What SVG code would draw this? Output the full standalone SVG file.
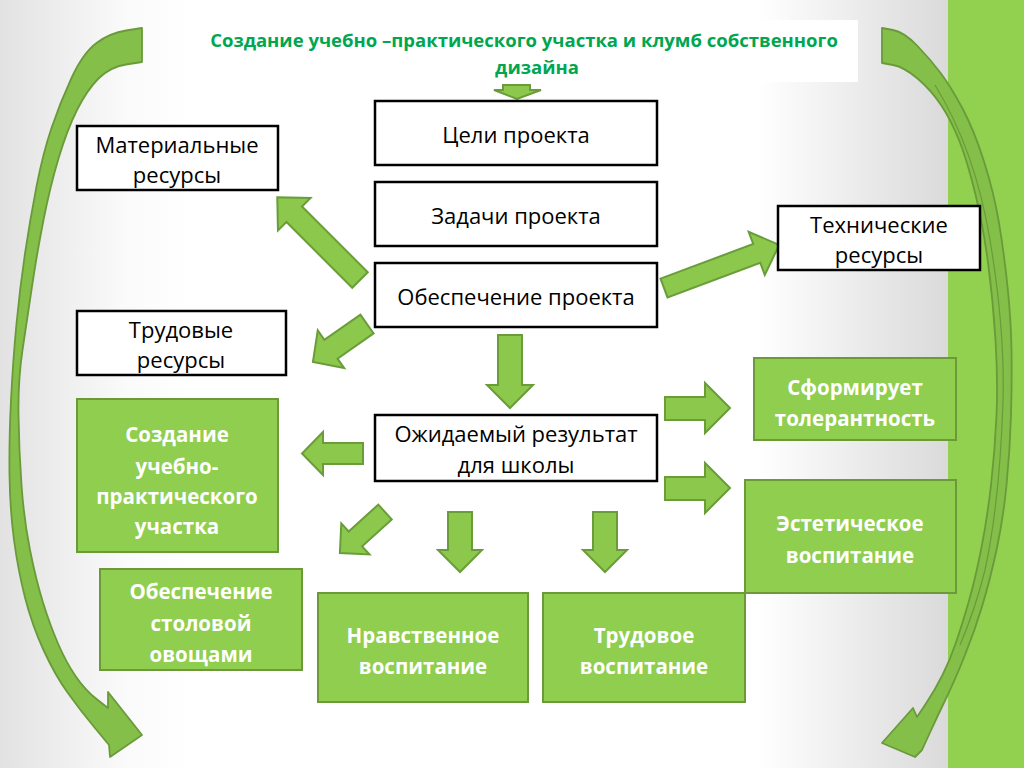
<svg xmlns="http://www.w3.org/2000/svg" width="1024" height="768" viewBox="0 0 1024 768">
<defs>
<linearGradient id="bg" x1="0" y1="0" x2="948" y2="0" gradientUnits="userSpaceOnUse">
<stop offset="0" stop-color="#e2e2e2"/>
<stop offset="0.13" stop-color="#fafafa"/>
<stop offset="0.2" stop-color="#ffffff"/>
<stop offset="0.8" stop-color="#ffffff"/>
<stop offset="1" stop-color="#dadada"/>
</linearGradient>
<style>
.wbox{fill:#ffffff;stroke:#000000;stroke-width:2.5}
.gbox{fill:#8fce4e;stroke:#6c9a3a;stroke-width:2}
.arr{fill:#8cc84c;stroke:#6a9d3a;stroke-width:2;stroke-linejoin:miter}
.curve{fill:#84bf4a;stroke:#6a9a3a;stroke-width:1.8;stroke-linejoin:round}
.fold{fill:none;stroke:#6a9a3a;stroke-width:1.2}
.bt{font-family:"Open Sans","Liberation Sans",sans-serif;font-size:22px;fill:#000000;text-anchor:middle}
.gt{font-family:"Open Sans","Liberation Sans",sans-serif;font-size:20.5px;font-weight:bold;fill:#ffffff;text-anchor:middle}
.tt{font-family:"Open Sans","Liberation Sans",sans-serif;font-size:18.5px;font-weight:bold;fill:#00a650;text-anchor:middle}
</style>
</defs>
<rect x="0" y="0" width="1024" height="768" fill="url(#bg)"/>
<rect x="948" y="0" width="76" height="768" fill="#92d050"/>
<rect x="190" y="20" width="668" height="62" fill="#ffffff"/>

<g id="connectors">
<path class="curve" d="M142,28 L126,30.5 Q110,33 96.5,43 Q83,53 71.5,78 Q60,103 51.5,128 Q43,153 36.5,186.5 Q30,220 25,253.5 Q20,287 16.5,323.5 Q13,360 11,400 Q9,440 9.5,475 Q10,510 14,540 Q18,570 25,597.5 Q32,625 43.5,650 Q55,675 67.5,692.5 Q80,710 94.5,727.5 L109,745 L110,757 L142,735 L108,692 L108,708 L96.5,699 Q85,690 75.5,676 Q66,662 58,643.5 Q50,625 43,602.5 Q36,580 30,550 Q24,520 21.5,485 Q19,450 18.5,415 Q18,380 22.5,350 Q27,320 32,286.5 Q37,253 43.5,220 Q50,187 58.5,158.5 Q67,130 77,110 Q87,90 98.5,78.5 Q110,67 126,64.5 L142,62 Z"/>
<path class="curve" d="M882,28 L893,30 Q904,32 917.5,46 Q931,60 941,73.5 Q951,87 962.5,108.5 Q974,130 984,161.5 Q994,193 999,223 Q1004,253 1007.5,286.5 Q1011,320 1011.5,350 Q1012,380 1011,415 Q1010,450 1006.5,485 Q1003,520 996.5,550 Q990,580 982.5,605 Q975,630 965,655 Q955,680 946.5,697.5 Q938,715 930,732.5 L922,750 L915,757 L882,743 L913,708 L917,717 L926,703.5 Q935,690 942.5,675 Q950,660 956,642.5 Q962,625 968.5,602.5 Q975,580 981,550 Q987,520 991,485 Q995,450 996.5,415 Q998,380 995.5,340 Q993,300 988,262.5 Q983,225 975,192.5 Q967,160 959,140 Q951,120 941,105 Q931,90 917.5,78.5 Q904,67 893,65 L882,63 Z"/>
<path class="fold" d="M935,85 Q975,150 990,240 Q1005,330 1003,400 Q1000,500 985,570 Q975,610 960,645"/>
<polygon class="arr" points="503,85 530,85 530,90 541,90 517,99 494,90 503,90"/>
<polygon class="arr" transform="translate(360,280) rotate(-135)" points="0,-11 93,-11 93,-23 117,0 93,23 93,11 0,11"/>
<polygon class="arr" transform="translate(367,324) rotate(145)" points="0,-11.5 44,-11.5 44,-23 66,0 44,23 44,11.5 0,11.5"/>
<polygon class="arr" transform="translate(664,288) rotate(-20.5)" points="0,-10 99,-10 99,-23 123,0 99,23 99,10 0,10"/>
<polygon class="arr" points="498,335 522,335 522,385 533,385 510,408 487,385 498,385"/>
<polygon class="arr" points="363,443 363,464 323,464 323,475 302,453.5 323,432 323,443"/>
<polygon class="arr" points="665,397 705,397 705,383 730,408 705,433 705,420 665,420"/>
<polygon class="arr" points="665,477 705,477 705,463 730,488 705,513 705,500 665,500"/>
<polygon class="arr" transform="translate(385,512) rotate(137.7)" points="0,-10 40,-10 40,-21 61,0 40,21 40,10 0,10"/>
<polygon class="arr" points="448,512 472,512 472,550 482,550 460,572 438,550 448,550"/>
<polygon class="arr" points="593,512 617,512 617,550 627,550 605,572 583,550 593,550"/>
</g>

<g id="title">
<text class="tt" x="524" y="47">Создание учебно –практического участка и клумб собственного</text>
<text class="tt" x="537" y="74">дизайна</text>
</g>

<g id="goals">
<rect class="wbox" x="375" y="101" width="282" height="64"/>
<text class="bt" x="516" y="143">Цели проекта</text>
</g>
<g id="tasks">
<rect class="wbox" x="375" y="182" width="282" height="64"/>
<text class="bt" x="516" y="224">Задачи проекта</text>
</g>
<g id="support">
<rect class="wbox" x="375" y="263" width="282" height="64"/>
<text class="bt" x="516" y="305">Обеспечение проекта</text>
</g>
<g id="material">
<rect class="wbox" x="77" y="126" width="201" height="64"/>
<text class="bt" x="177" y="153">Материальные</text>
<text class="bt" x="177" y="183">ресурсы</text>
</g>
<g id="technical">
<rect class="wbox" x="778" y="206" width="202" height="64"/>
<text class="bt" x="879" y="233">Технические</text>
<text class="bt" x="879" y="263">ресурсы</text>
</g>
<g id="labour">
<rect class="wbox" x="77" y="311" width="209" height="64"/>
<text class="bt" x="181" y="338">Трудовые</text>
<text class="bt" x="181" y="368">ресурсы</text>
</g>
<g id="result">
<rect class="wbox" x="375" y="415" width="282" height="66"/>
<text class="bt" x="516" y="442">Ожидаемый результат</text>
<text class="bt" x="516" y="473">для школы</text>
</g>

<g id="plot">
<rect class="gbox" x="77" y="399" width="201" height="153"/>
<text class="gt" x="177" y="442">Создание</text>
<text class="gt" x="177" y="474">учебно-</text>
<text class="gt" x="177" y="504">практического</text>
<text class="gt" x="177" y="534">участка</text>
</g>
<g id="canteen">
<rect class="gbox" x="100" y="569" width="202" height="101"/>
<text class="gt" x="201" y="599">Обеспечение</text>
<text class="gt" x="201" y="631">столовой</text>
<text class="gt" x="201" y="662">овощами</text>
</g>
<g id="moral">
<rect class="gbox" x="318" y="593" width="210" height="109"/>
<text class="gt" x="423" y="643">Нравственное</text>
<text class="gt" x="423" y="674">воспитание</text>
</g>
<g id="labour-ed">
<rect class="gbox" x="543" y="593" width="202" height="109"/>
<text class="gt" x="644" y="643">Трудовое</text>
<text class="gt" x="644" y="674">воспитание</text>
</g>
<g id="tolerance">
<rect class="gbox" x="754" y="358" width="202" height="82"/>
<text class="gt" x="855" y="395">Сформирует</text>
<text class="gt" x="855" y="426">толерантность</text>
</g>
<g id="aesthetic">
<rect class="gbox" x="745" y="480" width="211" height="113"/>
<text class="gt" x="850" y="531">Эстетическое</text>
<text class="gt" x="850" y="563">воспитание</text>
</g>
</svg>
